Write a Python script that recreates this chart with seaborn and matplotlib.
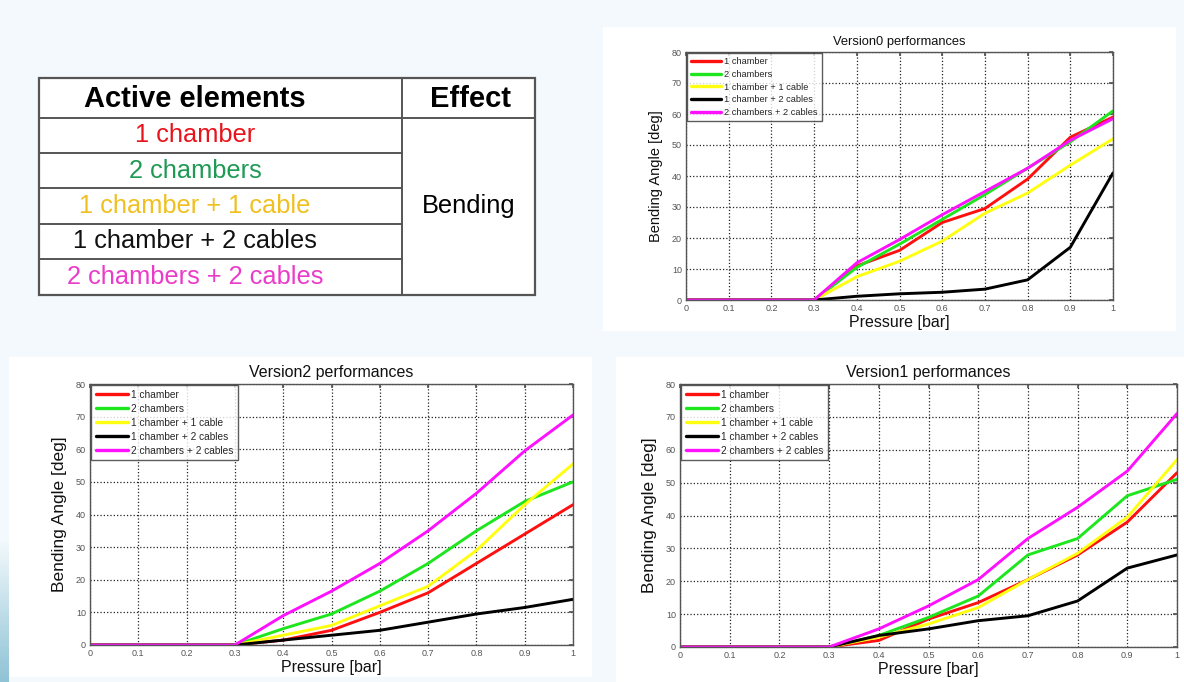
import numpy as np
import pandas as pd
import matplotlib
matplotlib.use("Agg")
import matplotlib.pyplot as plt
from matplotlib.patches import Rectangle
import seaborn as sns

# ---- data -------------------------------------------------------------
pressure = [0.0, 0.1, 0.2, 0.3, 0.4, 0.5, 0.6, 0.7, 0.8, 0.9, 1.0]
series_names = ["1 chamber", "2 chambers", "1 chamber + 1 cable",
                "1 chamber + 2 cables", "2 chambers + 2 cables"]

v0_1ch = [0, 0, 0, 0, 11.0, 16.0, 25.0, 29.5, 39.0, 52.5, 59.0]
v0_2ch = [0, 0, 0, 0, 10.5, 18.0, 26.0, 34.0, 42.5, 51.0, 61.0]
v0_1ch1c = [0, 0, 0, 0, 7.5, 12.5, 19.0, 28.0, 34.5, 43.5, 52.0]
v0_1ch2c = [0, 0, 0, 0, 1.2, 2.0, 2.5, 3.5, 6.5, 17.0, 41.0]
v0_2ch2c = [0, 0, 0, 0, 12.0, 19.5, 27.5, 35.0, 42.5, 51.5, 58.5]

v1_1ch = [0, 0, 0, 0, 2.0, 8.5, 13.5, 20.5, 28.0, 38.0, 53.0]
v1_2ch = [0, 0, 0, 0, 3.5, 9.0, 15.5, 28.0, 33.0, 46.0, 51.0]
v1_1ch1c = [0, 0, 0, 0, 3.0, 7.0, 12.0, 20.5, 28.5, 39.5, 57.0]
v1_1ch2c = [0, 0, 0, 0, 3.5, 5.5, 8.0, 9.5, 14.0, 24.0, 28.0]
v1_2ch2c = [0, 0, 0, 0, 5.5, 12.5, 20.5, 33.0, 42.5, 53.5, 71.0]

v2_1ch = [0, 0, 0, 0, 1.5, 4.5, 10.0, 16.0, 25.0, 34.0, 43.0]
v2_2ch = [0, 0, 0, 0, 5.0, 9.5, 16.5, 25.0, 35.0, 44.0, 50.0]
v2_1ch1c = [0, 0, 0, 0, 3.0, 6.0, 12.0, 18.0, 29.0, 43.0, 55.5]
v2_1ch2c = [0, 0, 0, 0, 1.5, 3.0, 4.5, 7.0, 9.5, 11.5, 14.0]
v2_2ch2c = [0, 0, 0, 0, 9.0, 16.5, 25.0, 35.0, 46.5, 59.5, 70.5]

x_ticks = [0.0, 0.1, 0.2, 0.3, 0.4, 0.5, 0.6, 0.7, 0.8, 0.9, 1.0]
x_tick_labels = ["0", "0.1", "0.2", "0.3", "0.4", "0.5", "0.6", "0.7", "0.8", "0.9", "1"]
y_ticks = [0, 10, 20, 30, 40, 50, 60, 70, 80]

line_colors = ["#ff1010", "#1ee61e", "#ffff10", "#000000", "#ff10ff"]
table_colors = ["#e8141c", "#1f9a55", "#f0c020", "#111111", "#ea3cc8"]

# ---- style ------------------------------------------------------------
sns.set_theme(style="white")
plt.rcParams["font.family"] = ["Liberation Sans", "DejaVu Sans"]

W, H = 1184, 682
fig = plt.figure(figsize=(W / 100, H / 100), dpi=100, facecolor="#f3f9fc")

# background layer in pixel units: panels, side strip and the table
bg = fig.add_axes([0, 0, 1, 1], zorder=0)
bg.set_xlim(0, W)
bg.set_ylim(H, 0)
bg.axis("off")

grad = np.linspace(0, 1, 64).reshape(-1, 1)
bg.imshow(grad, extent=(0, 9, 682, 540), cmap=matplotlib.colors.LinearSegmentedColormap.from_list(
    "strip", ["#f3f9fc", "#8fc3d6"]), aspect="auto", zorder=1)
for (x0, y0, x1, y1) in [(603, 27, 1176, 331), (9, 357, 592, 677), (616, 357, 1184, 682)]:
    bg.add_patch(Rectangle((x0, y0), x1 - x0, y1 - y0, facecolor="white",
                           edgecolor="none", zorder=2))

# table
t_left, t_right, t_div = 39, 535, 402
text_cx = 195
row_edges = [78, 118, 153, 188, 224, 259, 295]
edge = "#555555"
bg.add_patch(Rectangle((t_left, row_edges[0]), t_right - t_left, row_edges[-1] - row_edges[0],
                       facecolor="white", edgecolor=edge, lw=1.6, zorder=3))
bg.plot([t_div, t_div], [row_edges[0], row_edges[-1]], color=edge, lw=1.4, zorder=4)
bg.plot([t_left, t_right], [row_edges[1], row_edges[1]], color=edge, lw=1.4, zorder=4)
for yy in row_edges[2:-1]:
    bg.plot([t_left, t_div], [yy, yy], color=edge, lw=1.4, zorder=4)
bg.text(text_cx, (row_edges[0] + row_edges[1]) / 2 + 1, "Active elements",
        ha="center", va="center", fontsize=21, fontweight="bold", color="black", zorder=5)
bg.text((t_div + t_right) / 2 + 2, (row_edges[0] + row_edges[1]) / 2 + 1, "Effect",
        ha="center", va="center", fontsize=21, fontweight="bold", color="black", zorder=5)
for i, (name, col) in enumerate(zip(series_names, table_colors)):
    yc = (row_edges[i + 1] + row_edges[i + 2]) / 2
    bg.text(text_cx, yc, name, ha="center", va="center",
            fontsize=18.3, color=col, zorder=5)
bg.text((t_div + t_right) / 2, (row_edges[1] + row_edges[-1]) / 2, "Bending",
        ha="center", va="center", fontsize=18.3, color="black", zorder=5)


def perf_frame(values):
    rows = []
    for name, vals in zip(series_names, values):
        for p, v in zip(pressure, vals):
            rows.append({"Pressure": p, "Angle": v, "Elements": name})
    return pd.DataFrame(rows)


def draw_chart(rect, title, values, title_size, xlabel_size, ylabel_size, legend_size):
    ax = fig.add_axes(rect, zorder=2)
    ax.set_facecolor("white")
    df = perf_frame(values)
    sns.lineplot(data=df, x="Pressure", y="Angle", hue="Elements",
                 hue_order=series_names, palette=line_colors, lw=2.1,
                 ax=ax, legend=False, sort=False)
    ax.set_xlim(0, 1)
    ax.set_ylim(0, 80)
    ax.set_xticks(x_ticks)
    ax.set_xticklabels(x_tick_labels)
    ax.set_yticks(y_ticks)
    ax.tick_params(axis="both", labelsize=6.5, colors="#555555", direction="in",
                   length=3, top=True, right=True, pad=3)
    ax.grid(True, linestyle=":", color="#222222", lw=0.9)
    for sp in ax.spines.values():
        sp.set_color("#555555")
        sp.set_linewidth(1.0)
    ax.set_title(title, fontsize=title_size, pad=5, color="#111111")
    ax.set_xlabel("Pressure [bar]", fontsize=xlabel_size, labelpad=1, color="#111111")
    ax.set_ylabel("Bending Angle [deg]", fontsize=ylabel_size, labelpad=6, color="#111111")
    handles = [plt.Line2D([], [], color=c, lw=2.4) for c in line_colors]
    leg = ax.legend(handles, series_names, loc="upper left", fontsize=legend_size,
                    frameon=True, fancybox=False, borderaxespad=0.1,
                    handlelength=3.2, handletextpad=0.3, labelspacing=0.4,
                    borderpad=0.45)
    leg.get_frame().set_edgecolor("#333333")
    leg.get_frame().set_linewidth(1.0)
    return ax


draw_chart([686 / W, 1 - 300 / H, (1113 - 686) / W, (300 - 52) / H],
           "Version0 performances",
           [v0_1ch, v0_2ch, v0_1ch1c, v0_1ch2c, v0_2ch2c],
           title_size=9.3, xlabel_size=11.5, ylabel_size=10.5, legend_size=6.7)
draw_chart([90 / W, 1 - 645 / H, (573 - 90) / W, (645 - 384) / H],
           "Version2 performances",
           [v2_1ch, v2_2ch, v2_1ch1c, v2_1ch2c, v2_2ch2c],
           title_size=11.5, xlabel_size=11.5, ylabel_size=12.5, legend_size=7.3)
draw_chart([680 / W, 1 - 647 / H, (1177 - 680) / W, (647 - 384) / H],
           "Version1 performances",
           [v1_1ch, v1_2ch, v1_1ch1c, v1_1ch2c, v1_2ch2c],
           title_size=11.5, xlabel_size=11.5, ylabel_size=12.5, legend_size=7.3)

fig.savefig("out.png", dpi=100, facecolor=fig.get_facecolor())
